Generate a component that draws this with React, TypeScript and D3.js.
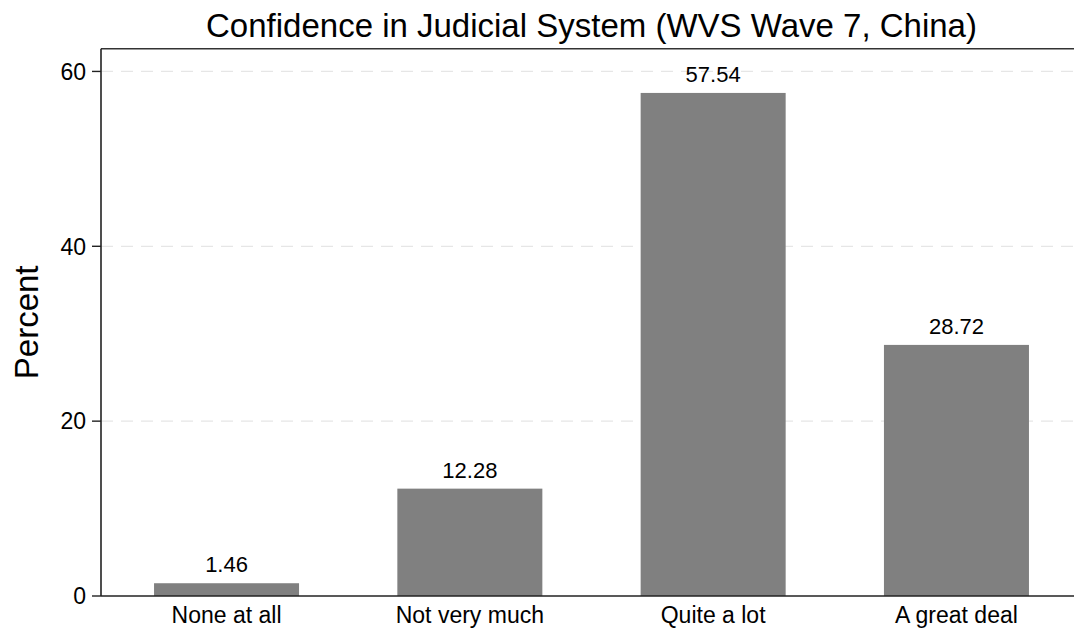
import React from "react";
import * as d3 from "d3";

const categories = ["None at all", "Not very much", "Quite a lot", "A great deal"];
const percents = [1.46, 12.28, 57.54, 28.72];
const valueLabels = ["1.46", "12.28", "57.54", "28.72"];
const yTicks = [0, 20, 40, 60];
const title = "Confidence in Judicial System (WVS Wave 7, China)";
const yTitle = "Percent";

const W = 1074;
const H = 636;
const left = 101;
const right = 1082;
const top = 48.7;
const bottom = 596;

export default function App() {
  const x = d3
    .scaleBand<string>()
    .domain(categories)
    .range([left, right])
    .paddingInner(0.404)
    .paddingOuter(0.218);
  const y = d3.scaleLinear().domain([0, 62.6]).range([bottom, top]);
  const font = "'Liberation Sans', Arial, Helvetica, sans-serif";

  return (
    <svg
      width={W}
      height={H}
      style={{ position: "absolute", left: 0, top: 0, background: "#fff" }}
      fontFamily={font}
    >
      <rect x={0} y={0} width={W} height={H} fill="#fff" />
      {/* gridlines */}
      {yTicks
        .filter((t) => t > 0)
        .map((t) => (
          <line
            key={"g" + t}
            x1={left}
            x2={W}
            y1={y(t)}
            y2={y(t)}
            stroke="#e6e6e6"
            strokeWidth={1.3}
            strokeDasharray="12,8"
          />
        ))}
      {/* bars */}
      {categories.map((c, i) => (
        <rect
          key={c}
          x={x(c)}
          y={y(percents[i])}
          width={x.bandwidth()}
          height={y(0) - y(percents[i])}
          fill="#808080"
        />
      ))}
      {/* value labels */}
      {categories.map((c, i) => (
        <text
          key={"v" + c}
          x={(x(c) as number) + x.bandwidth() / 2}
          y={y(percents[i]) - 11}
          textAnchor="middle"
          fontSize={22}
          fill="#000"
        >
          {valueLabels[i]}
        </text>
      ))}
      {/* frame */}
      <line x1={left} x2={W} y1={top} y2={top} stroke="#333" strokeWidth={1.6} />
      <line x1={left} x2={left} y1={top} y2={bottom} stroke="#222" strokeWidth={1.6} />
      <line x1={left} x2={W} y1={bottom} y2={bottom} stroke="#222" strokeWidth={1.6} />
      {/* y ticks */}
      {yTicks.map((t) => (
        <g key={"t" + t}>
          <line x1={left - 9} x2={left} y1={y(t)} y2={y(t)} stroke="#222" strokeWidth={1.4} />
          <text x={left - 15} y={y(t)} dy="0.36em" textAnchor="end" fontSize={23} fill="#000">
            {t}
          </text>
        </g>
      ))}
      {/* category labels */}
      {categories.map((c) => (
        <text
          key={"c" + c}
          x={(x(c) as number) + x.bandwidth() / 2}
          y={623}
          textAnchor="middle"
          fontSize={23}
          fill="#000"
        >
          {c}
        </text>
      ))}
      {/* titles */}
      <text x={(left + right) / 2} y={37} textAnchor="middle" fontSize={33} fill="#000">
        {title}
      </text>
      <text
        transform={`translate(38,${(top + bottom) / 2}) rotate(-90)`}
        textAnchor="middle"
        fontSize={33}
        fill="#000"
      >
        {yTitle}
      </text>
    </svg>
  );
}
